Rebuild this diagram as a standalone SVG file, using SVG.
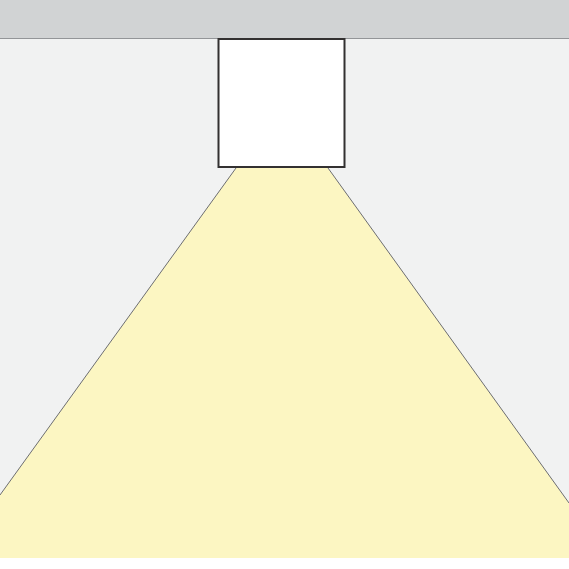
<svg xmlns="http://www.w3.org/2000/svg" width="569" height="569" viewBox="0 0 569 569">
<style>
.edge{stroke:#6d6e71;stroke-width:1;fill:none}
</style>
<rect x="0" y="0" width="569" height="569" fill="#ffffff"/>
<rect x="0" y="38.5" width="569" height="519.5" fill="#f1f2f2"/>
<rect x="0" y="0" width="569" height="38.5" fill="#d1d3d4"/>
<line x1="0" y1="38.5" x2="569" y2="38.5" stroke="#939598" stroke-width="1"/>
<g id="light">
<polygon points="236,168 328,168 569,503 569,558 0,558 0,495" fill="#fcf6c2"/>
<line class="edge" x1="236" y1="168" x2="0" y2="495"/>
<line class="edge" x1="328" y1="168" x2="569" y2="503"/>
</g>
<g id="fixture">
<rect x="218.5" y="39" width="126" height="128" fill="#ffffff" stroke="#333131" stroke-width="2"/>
</g>
</svg>
